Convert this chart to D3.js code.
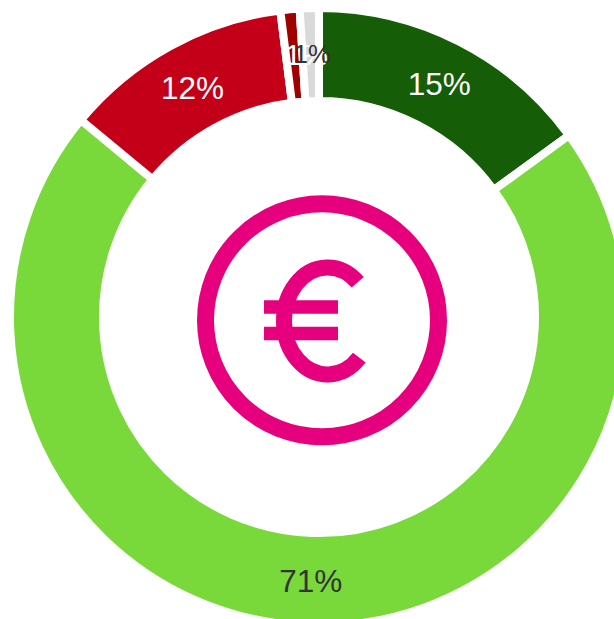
<!DOCTYPE html>
<html><head><meta charset="utf-8">
<script src="https://cdn.jsdelivr.net/npm/d3@7"></script>
<style>html,body{margin:0;padding:0;background:#fff;overflow:hidden}svg{display:block}</style>
</head><body><div id="c"></div>
<script>
const categories = ["a","b","c","d","e"];
const values = [15, 71, 12, 1, 1];
const labels = ["15%","71%","12%","1%","1%"];
const colors = ["#155d06","#7ad93a","#c40018","#a00000","#d9d9d9"];
const labelColors = ["#ffffff","#333333","#ffffff","#ffffff","#333333"];
const W=614,H=619,cx=319,cy=317,R=309,r=216,ix=322,iy=320;
const svg=d3.select("#c").append("svg").attr("width",W).attr("height",H);
const g=svg.append("g").attr("transform",`translate(${cx},${cy})`);
const pie=d3.pie().sort(null).value((d,i)=>values[i]);
const arc=d3.arc().innerRadius(r).outerRadius(R);
const arcs=pie(categories);
g.selectAll("path.s").data(arcs).join("path").attr("class","s").attr("d",arc)
 .attr("fill",d=>colors[d.index]).attr("stroke","#fff").attr("stroke-width",8);
const nudge=i=>[[1,1],[0,2],[0,1],[12,-1],[1.5,-0.5]][i];
const fontSize=i=>i<3?31.5:(i===3?30:26);
g.selectAll("text").data(arcs).join("text")
 .attr("x",d=>arc.centroid(d)[0]+nudge(d.index)[0])
 .attr("y",d=>arc.centroid(d)[1]+nudge(d.index)[1])
 .attr("text-anchor","middle").attr("dominant-baseline","central")
 .attr("font-family","'Liberation Sans',Arial,sans-serif").attr("font-size",d=>fontSize(d.index))
 .attr("fill",d=>labelColors[d.index]).text(d=>labels[d.index]);
const ic=svg.append("g").attr("fill","none").attr("stroke","#e6007e");
ic.append("circle").attr("cx",ix).attr("cy",iy+0.3).attr("r",116.5).attr("stroke-width",17);
ic.append("path").attr("d","M357.7 282.3A43.6 53.5 0 1 0 359.3 357.7").attr("stroke-width",16);
ic.append("path").attr("d","M264 307H338M264 333.6H338").attr("stroke-width",13.5);
</script></body></html>
